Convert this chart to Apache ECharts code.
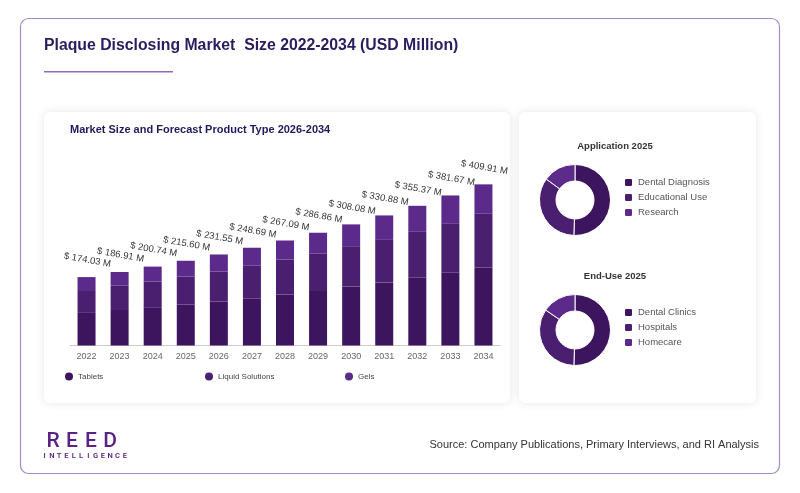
<!DOCTYPE html>
<html><head><meta charset="utf-8">
<script src="https://cdn.jsdelivr.net/npm/echarts@6/dist/echarts.min.js"></script>
<style>html,body{margin:0;padding:0;background:#fff}#c{width:800px;height:493px}</style>
</head><body><div id="c"></div>
<script>
// ---- data ----
const years = ['2022','2023','2024','2025','2026','2027','2028','2029','2030','2031','2032','2033','2034'];
const tablets = [83.0, 90.3, 95.8, 104.0, 111.7, 119.0, 129.8, 138.6, 150.3, 160.5, 172.8, 185.1, 198.7];
const liquidSolutions = [58.0, 61.8, 66.9, 71.4, 76.5, 83.9, 88.7, 94.9, 102.3, 109.9, 117.8, 125.9, 136.4];
const gels = [33.03, 34.81, 38.04, 40.2, 43.35, 45.79, 48.59, 53.36, 55.48, 60.48, 64.77, 70.67, 74.81];
const totals = [174.03, 186.91, 200.74, 215.60, 231.55, 248.69, 267.09, 286.86, 308.08, 330.88, 355.37, 381.67, 409.91];
const productNames = ['Tablets', 'Liquid Solutions', 'Gels'];
const applicationNames = ['Dental Diagnosis', 'Educational Use', 'Research'];
const applicationValues = [50.5, 34.5, 15];
const endUseNames = ['Dental Clinics', 'Hospitals', 'Homecare'];
const endUseValues = [50.5, 34, 15.5];
const colors = ['#3d155f', '#4b1f70', '#5b2a8a'];

const FONT = '"Liberation Sans", Arial, sans-serif';
const chart = echarts.init(document.getElementById('c'));

function barSeries(name, data, idx, withLabel) {
  const s = {
    name: name, type: 'bar', stack: 'p', data: data, barWidth: 18,
    itemStyle: { color: colors[idx] }
  };
  if (withLabel) {
    s.label = {
      show: true, position: 'top', rotate: -10, distance: 12,
      fontFamily: FONT, fontSize: 9.5, color: '#333',
      formatter: p => '$ ' + totals[p.dataIndex].toFixed(2) + ' M'
    };
  }
  return s;
}
function pieData(names, values) {
  return names.map((n, i) => ({ name: n, value: values[i], itemStyle: { color: colors[i] } }));
}

// logo letters
const logo = [];
'REED'.split('').forEach((ch, i) => logo.push({
  type: 'text', x: 53 + i * 19, y: 441.5, z: 10,
  style: { text: ch, fontFamily: 'Roboto, sans-serif', fontWeight: 500, fontSize: 21, fill: '#5b2283', textAlign: 'center', textVerticalAlign: 'middle' }
}));
'INTELLIGENCE'.split('').forEach((ch, i) => logo.push({
  type: 'text', x: 44.5 + i * 7.3, y: 456.5, z: 10,
  style: { text: ch, fontFamily: 'Roboto, sans-serif', fontWeight: 600, fontSize: 7.5, fill: '#5b2283', textAlign: 'center', textVerticalAlign: 'middle' }
}));

const legendBase = {
  itemWidth: 8, itemHeight: 8, icon: 'circle', padding: 0,
  textStyle: { fontFamily: FONT, fontSize: 8, color: '#444' }
};
const pieLegendBase = {
  orient: 'vertical', itemWidth: 9, itemHeight: 9, icon: 'roundRect', itemGap: 4, padding: 0,
  textStyle: { fontFamily: FONT, fontSize: 9.5, color: '#555', lineHeight: 11 }
};

chart.setOption({
  animation: false,
  graphic: [
    { type: 'rect', shape: { x: 20.5, y: 18.5, width: 759, height: 455, r: 8 }, style: { fill: '#fff', stroke: '#a58bc6', lineWidth: 1.2 }, z: -10 },
    { type: 'rect', shape: { x: 44, y: 112, width: 466, height: 291, r: 6 }, style: { fill: '#fff', shadowBlur: 10, shadowColor: 'rgba(0,0,0,0.10)' }, z: -5 },
    { type: 'rect', shape: { x: 519, y: 112, width: 237, height: 291, r: 6 }, style: { fill: '#fff', shadowBlur: 10, shadowColor: 'rgba(0,0,0,0.10)' }, z: -5 },
    { type: 'text', x: 44, y: 46, style: { text: 'Plaque Disclosing Market  Size 2022-2034 (USD Million)', fontFamily: FONT, fontWeight: 'bold', fontSize: 15.8, fill: '#2b1b5f', textVerticalAlign: 'middle' } },
    { type: 'rect', shape: { x: 44, y: 71, width: 129, height: 1.6 }, style: { fill: '#8f6cc0' } },
    { type: 'text', x: 70, y: 130, style: { text: 'Market Size and Forecast Product Type 2026-2034', fontFamily: FONT, fontWeight: 'bold', fontSize: 11, fill: '#1f1a5c', textVerticalAlign: 'middle' } },
    { type: 'text', x: 615, y: 146, style: { text: 'Application 2025', fontFamily: FONT, fontWeight: 'bold', fontSize: 9.5, fill: '#333', textAlign: 'center', textVerticalAlign: 'middle' } },
    { type: 'text', x: 615, y: 276, style: { text: 'End-Use 2025', fontFamily: FONT, fontWeight: 'bold', fontSize: 9.5, fill: '#333', textAlign: 'center', textVerticalAlign: 'middle' } },
    { type: 'text', x: 759, y: 445, style: { text: 'Source: Company Publications, Primary Interviews, and RI Analysis', fontFamily: FONT, fontSize: 11, fill: '#333', textAlign: 'right', textVerticalAlign: 'middle' } }
  ].concat(logo),
  grid: { left: 70, right: 300, top: 168.6, bottom: 147.5 },
  xAxis: {
    type: 'category', data: years,
    axisTick: { show: false },
    axisLine: { lineStyle: { color: '#ccc' } },
    axisLabel: { fontFamily: FONT, fontSize: 9, color: '#666', margin: 7 }
  },
  yAxis: { type: 'value', min: 0, max: 450, show: false, splitLine: { show: false } },
  legend: [
    Object.assign({ data: [productNames[0]], left: 65, top: 372.5 }, legendBase),
    Object.assign({ data: [productNames[1]], left: 205, top: 372.5 }, legendBase),
    Object.assign({ data: [productNames[2]], left: 345, top: 372.5 }, legendBase),
    Object.assign({ data: applicationNames, left: 623, top: 177 }, pieLegendBase),
    Object.assign({ data: endUseNames, left: 623, top: 307 }, pieLegendBase)
  ],
  series: [
    barSeries(productNames[0], tablets, 0, false),
    barSeries(productNames[1], liquidSolutions, 1, false),
    barSeries(productNames[2], gels, 2, true),
    {
      type: 'pie', name: 'Application 2025', center: [575, 200], radius: [19, 35.5],
      startAngle: 90, clockwise: true, label: { show: false }, labelLine: { show: false },
      itemStyle: { borderColor: '#fff', borderWidth: 1 }, emphasis: { disabled: true },
      data: pieData(applicationNames, applicationValues)
    },
    {
      type: 'pie', name: 'End-Use 2025', center: [575, 330], radius: [19, 35.5],
      startAngle: 90, clockwise: true, label: { show: false }, labelLine: { show: false },
      itemStyle: { borderColor: '#fff', borderWidth: 1 }, emphasis: { disabled: true },
      data: pieData(endUseNames, endUseValues)
    }
  ]
});
</script></body></html>
